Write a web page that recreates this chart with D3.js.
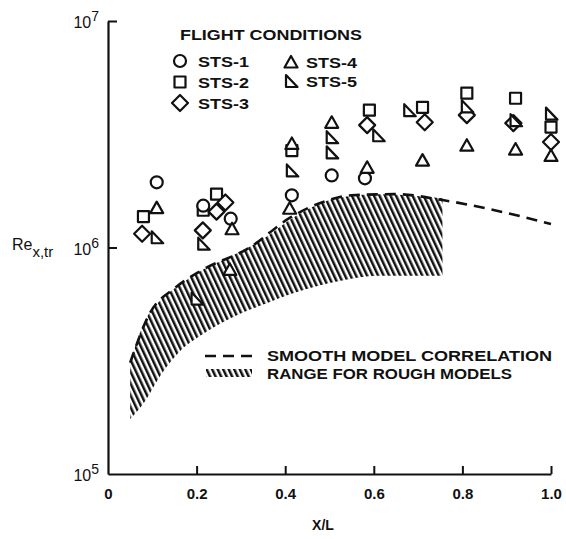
<!DOCTYPE html>
<html>
<head>
<meta charset="utf-8">
<script src="https://cdn.jsdelivr.net/npm/d3@7"></script>
<style>
  html, body { margin: 0; padding: 0; background: #fff; }
  svg { display: block; }
  text { font-family: "Liberation Sans", Arial, Helvetica, sans-serif; fill: #111; }
</style>
</head>
<body>
<svg id="chart" width="566" height="539"></svg>
<script>
// Axis ticks
const xTicks = [0, 0.2, 0.4, 0.6, 0.8, 1.0];
const xTickLabels = ["0", "0.2", "0.4", "0.6", "0.8", "1.0"];
const yTicks = [1e5, 1e6, 1e7];
const yTickExponents = ["5", "6", "7"];

// Flight data: [x/L, Re_x,tr]
const sts1 = [[0.11, 1.94e6], [0.215, 1.53e6], [0.277, 1.34e6], [0.415, 1.70e6], [0.505, 2.08e6], [0.58, 2.02e6]];
const sts2 = [[0.08, 1.37e6], [0.245, 1.72e6], [0.215, 1.46e6], [0.415, 2.68e6], [0.59, 4.04e6], [0.71, 4.16e6], [0.81, 4.80e6], [0.92, 4.56e6], [1.0, 3.40e6]];
const sts3 = [[0.077, 1.15e6], [0.245, 1.44e6], [0.265, 1.58e6], [0.214, 1.19e6], [0.585, 3.47e6], [0.715, 3.57e6], [0.81, 3.84e6], [0.915, 3.54e6], [1.0, 2.92e6]];
const sts4 = [[0.11, 1.50e6], [0.28, 1.21e6], [0.275, 8.0e5], [0.415, 2.88e6], [0.41, 1.49e6], [0.505, 3.57e6], [0.585, 2.26e6], [0.71, 2.43e6], [0.81, 2.83e6], [0.92, 2.72e6], [1.0, 2.55e6]];
const sts5 = [[0.11, 1.11e6], [0.215, 1.04e6], [0.2, 5.95e5], [0.415, 2.19e6], [0.505, 3.07e6], [0.505, 2.63e6], [0.61, 3.13e6], [0.68, 4.04e6], [0.81, 4.2e6], [0.92, 3.65e6], [1.0, 3.9e6]];

// Smooth model correlation
const smoothX = [0.05, 0.095, 0.15, 0.21, 0.32, 0.41, 0.49, 0.55, 0.65, 0.755, 0.88, 1.0];
const smoothRe = [3.1e5, 5.15e5, 6.6e5, 7.9e5, 1.0e6, 1.35e6, 1.6e6, 1.7e6, 1.72e6, 1.62e6, 1.45e6, 1.27e6];

// Range for rough models
const bandX = [0.05, 0.08, 0.12, 0.16, 0.21, 0.27, 0.34, 0.43, 0.52, 0.61, 0.755];
const bandHigh = [3.1e5, 4.6e5, 5.9e5, 6.8e5, 7.9e5, 9.0e5, 1.06e6, 1.4e6, 1.66e6, 1.72e6, 1.65e6];
const bandLow = [1.75e5, 2.05e5, 2.75e5, 3.45e5, 4.1e5, 4.8e5, 5.5e5, 6.4e5, 7.1e5, 7.5e5, 7.5e5];

const svg = d3.select("#chart");
const x = d3.scaleLinear().domain([0, 1]).range([108, 551]);
const y = d3.scaleLog().domain([1e5, 1e7]).range([474, 21]);

// hatch pattern
const defs = svg.append("defs");
defs.append("pattern")
  .attr("id", "hatch")
  .attr("patternUnits", "userSpaceOnUse")
  .attr("width", 5).attr("height", 10)
  .attr("patternTransform", "rotate(-25)")
  .append("rect")
  .attr("x", 0).attr("y", 0).attr("width", 2.5).attr("height", 10)
  .attr("fill", "#111");

// band
const band = bandX.map((v, i) => ({ x: v, lo: bandLow[i], hi: bandHigh[i] }));
svg.append("path")
  .datum(band)
  .attr("fill", "url(#hatch)")
  .attr("d", d3.area().x(d => x(d.x)).y0(d => y(d.lo)).y1(d => y(d.hi)).curve(d3.curveMonotoneX));

// smooth correlation (dashed)
svg.append("path")
  .datum(smoothX.map((v, i) => [v, smoothRe[i]]))
  .attr("fill", "none")
  .attr("stroke", "#111")
  .attr("stroke-width", 2.6)
  .attr("stroke-dasharray", "11,7")
  .attr("d", d3.line().x(d => x(d[0])).y(d => y(d[1])).curve(d3.curveMonotoneX));

// axes
const xAxis = d3.axisBottom(x).tickValues(xTicks).tickSize(-8).tickSizeOuter(0).tickPadding(14)
  .tickFormat((d, i) => xTickLabels[i]);
const gx = svg.append("g").attr("transform", `translate(0,${y(1e5)})`).call(xAxis);
gx.select(".domain").attr("stroke", "#111").attr("stroke-width", 2.2);
gx.selectAll(".tick line").attr("stroke", "#111").attr("stroke-width", 2);
gx.selectAll(".tick").filter(d => d === 0).select("line").remove();
gx.selectAll(".tick text").attr("font-size", 15).attr("font-weight", "bold")
  .style("font-family", "'Liberation Sans', Arial, sans-serif").attr("fill", "#111");

const yAxis = d3.axisLeft(y).tickValues(yTicks).tickSize(-9).tickSizeOuter(0).tickPadding(10).tickFormat(() => "");
const gy = svg.append("g").attr("transform", `translate(${x(0)},0)`).call(yAxis);
gy.select(".domain").attr("stroke", "#111").attr("stroke-width", 2.2);
gy.selectAll(".tick line").attr("stroke", "#111").attr("stroke-width", 2);
gy.selectAll(".tick").filter(d => d === 1e5).select("line").remove();

// powers of ten labels
yTicks.forEach((v, i) => {
  const t = svg.append("text")
    .attr("x", x(0) - 9)
    .attr("y", y(v) + 7)
    .attr("text-anchor", "end")
    .attr("font-size", 16);
  t.append("tspan").text("10");
  t.append("tspan").attr("dy", -7).attr("font-size", 14).text(yTickExponents[i]);
});

// y-axis title
const yt = svg.append("text").attr("x", 12).attr("y", y(1e6) + 2).attr("font-size", 16);
yt.append("tspan").text("Re");
yt.append("tspan").attr("dy", 7).attr("font-size", 15).text("x,tr");

// x-axis title
svg.append("text").attr("x", 323).attr("y", 530).attr("text-anchor", "middle")
  .attr("font-size", 14).attr("font-weight", "bold").text("X/L");

// marker shapes
const markerPaths = {
  sts1: "circle",
  sts2: "M-5.5,-5.5H5.5V5.5H-5.5Z",
  sts3: "M0,-8L8,0L0,8L-8,0Z",
  sts4: "M0,-6L6.5,5.5H-6.5Z",
  sts5: "M-5,-6L6.5,6H-5Z"
};
function drawMarker(g, key, px, py) {
  if (markerPaths[key] === "circle") {
    g.append("circle").attr("cx", px).attr("cy", py).attr("r", 6)
      .attr("fill", "#fff").attr("stroke", "#111").attr("stroke-width", 2.2);
  } else {
    g.append("path").attr("transform", `translate(${px},${py})`).attr("d", markerPaths[key])
      .attr("fill", "#fff").attr("stroke", "#111").attr("stroke-width", 2.2).attr("stroke-linejoin", "round");
  }
}

const series = [["sts2", sts2], ["sts3", sts3], ["sts1", sts1], ["sts4", sts4], ["sts5", sts5]];
const gm = svg.append("g");
series.forEach(([key, data]) => {
  data.forEach(d => drawMarker(gm, key, x(d[0]), y(d[1])));
});

// flight conditions legend
const lg = svg.append("g");
lg.append("text").attr("x", 180).attr("y", 40).attr("font-size", 15).attr("font-weight", "bold")
  .attr("textLength", 182).attr("lengthAdjust", "spacingAndGlyphs").text("FLIGHT CONDITIONS");
const legendItems = [
  ["sts1", "STS-1", 180, 61, 198],
  ["sts2", "STS-2", 180, 82, 198],
  ["sts3", "STS-3", 180, 103, 198],
  ["sts4", "STS-4", 291, 62, 306],
  ["sts5", "STS-5", 291, 81, 306]
];
legendItems.forEach(([key, label, mx, my, tx]) => {
  drawMarker(lg, key, mx, my);
  lg.append("text").attr("x", tx).attr("y", my + 6).attr("font-size", 15).attr("font-weight", "bold")
    .attr("textLength", 51).attr("lengthAdjust", "spacingAndGlyphs").text(label);
});

// model legend
const ml = svg.append("g");
ml.append("line").attr("x1", 205).attr("x2", 258).attr("y1", 356).attr("y2", 356)
  .attr("stroke", "#111").attr("stroke-width", 2.6).attr("stroke-dasharray", "11,7");
ml.append("rect").attr("x", 206).attr("y", 369).attr("width", 46).attr("height", 8).attr("fill", "url(#hatch)");
ml.append("text").attr("x", 267).attr("y", 361).attr("font-size", 14).attr("font-weight", "bold")
  .attr("textLength", 285).attr("lengthAdjust", "spacingAndGlyphs").text("SMOOTH MODEL CORRELATION");
ml.append("text").attr("x", 267).attr("y", 379).attr("font-size", 14).attr("font-weight", "bold")
  .attr("textLength", 245).attr("lengthAdjust", "spacingAndGlyphs").text("RANGE FOR ROUGH MODELS");
</script>
</body>
</html>
